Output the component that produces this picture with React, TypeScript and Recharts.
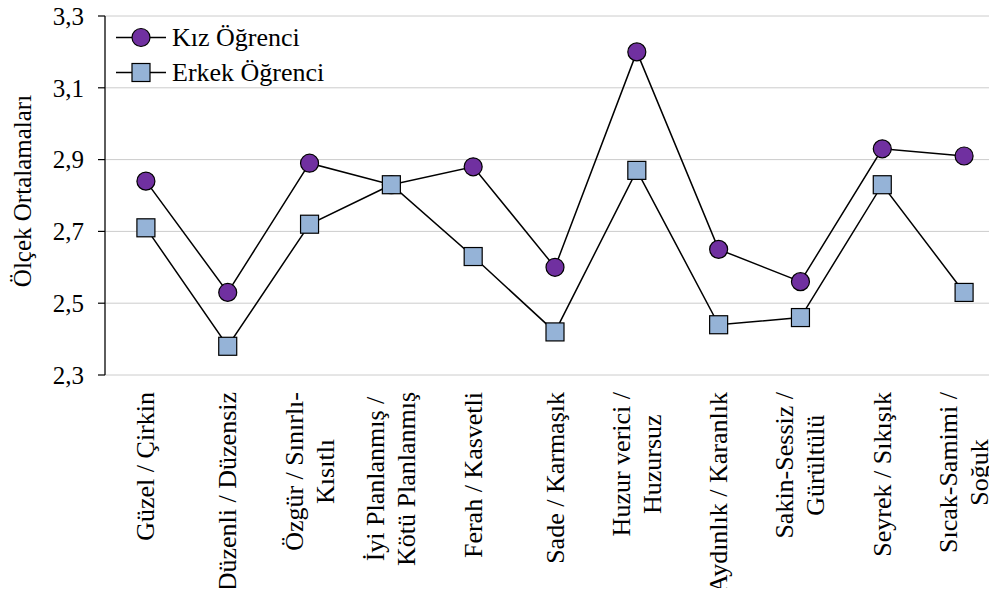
import { CartesianGrid, Legend, Line, LineChart, XAxis, YAxis } from 'recharts'

const categories = [
  'Güzel / Çirkin',
  'Düzenli / Düzensiz',
  'Özgür / Sınırlı-\nKısıtlı',
  'İyi Planlanmış /\nKötü Planlanmış',
  'Ferah / Kasvetli',
  'Sade / Karmaşık',
  'Huzur verici /\nHuzursuz',
  'Aydınlık / Karanlık',
  'Sakin-Sessiz /\nGürültülü',
  'Seyrek / Sıkışık',
  'Sıcak-Samimi /\nSoğuk',
]
const kizValues = [2.84, 2.53, 2.89, 2.83, 2.88, 2.6, 3.2, 2.65, 2.56, 2.93, 2.91]
const erkekValues = [2.71, 2.38, 2.72, 2.83, 2.63, 2.42, 2.87, 2.44, 2.46, 2.83, 2.53]
const yTicks = [2.3, 2.5, 2.7, 2.9, 3.1, 3.3]

const FONT = '"Liberation Serif", "Times New Roman", serif'
const KIZ_FILL = '#7030A0'
const ERKEK_FILL = '#95B3D7'
const LABEL_SIZE = 26

const data = categories.map((name, i) => ({
  name,
  x: i + 0.5,
  kiz: kizValues[i],
  erkek: erkekValues[i],
}))
const boundaryTicks = categories.map((_, i) => i).concat(categories.length)
const centerTicks = data.map((d) => d.x)

let ctx: CanvasRenderingContext2D | null = null
const measure = (s: string) => {
  if (!ctx) {
    ctx = document.createElement('canvas').getContext('2d')
    if (ctx) ctx.font = `${LABEL_SIZE}px "Liberation Serif"`
  }
  return ctx ? ctx.measureText(s).width : s.length * 11
}

// rotated, centred multi-line category labels
const XLabel = (props: any) => {
  const { x, y, payload } = props
  const idx = Math.round(payload.value - 0.5)
  const lines = (categories[idx] || '').split('\n')
  const maxW = Math.max(...lines.map(measure))
  const top = y + 17
  const cy = top + maxW / 2
  const lh = 31
  return (
    <g transform={`translate(${x},${cy}) rotate(-90)`}>
      {lines.map((l, i) => (
        <text
          key={i}
          x={0}
          y={(i - (lines.length - 1) / 2) * lh}
          textAnchor="middle"
          dominantBaseline="central"
          fontFamily={FONT}
          fontSize={LABEL_SIZE}
          fill="#000"
        >
          {l}
        </text>
      ))}
    </g>
  )
}

const SquareDot = (props: any) => {
  const { cx, cy, index } = props
  return (
    <rect
      key={`sq-${index}`}
      x={cx - 9}
      y={cy - 9}
      width={18}
      height={18}
      fill={ERKEK_FILL}
      stroke="#000"
      strokeWidth={1.2}
    />
  )
}

const LegendContent = () => {
  const rows = [
    { name: 'Kız Öğrenci', kind: 'circle' },
    { name: 'Erkek Öğrenci', kind: 'square' },
  ]
  return (
    <div>
      {rows.map((r) => (
        <div key={r.name} style={{ display: 'flex', alignItems: 'center', height: 35 }}>
          <svg width={50} height={35}>
            <line x1={0} y1={17.5} x2={50} y2={17.5} stroke="#000" strokeWidth={1.5} />
            {r.kind === 'circle' ? (
              <circle cx={25} cy={17.5} r={9} fill={KIZ_FILL} stroke="#000" strokeWidth={1.2} />
            ) : (
              <rect x={16} y={8.5} width={18} height={18} fill={ERKEK_FILL} stroke="#000" strokeWidth={1.2} />
            )}
          </svg>
          <span style={{ marginLeft: 6, fontFamily: FONT, fontSize: 26, color: '#000', whiteSpace: 'nowrap' }}>
            {r.name}
          </span>
        </div>
      ))}
    </div>
  )
}

function App() {
  return (
    <div style={{ margin: -8, width: 997, height: 596, overflow: 'hidden', position: 'relative', background: '#fff' }}>
      <LineChart width={1010} height={596} data={data} margin={{ top: 16, right: 5, bottom: 0, left: 0 }}>
        <CartesianGrid stroke="#cccccc" strokeWidth={1} />
        <XAxis
          dataKey="x"
          type="number"
          domain={[0, categories.length]}
          ticks={boundaryTicks}
          interval={0}
          tick={false}
          tickSize={7}
          height={0}
          stroke="#000"
          strokeWidth={1.2}
        />
        <XAxis
          xAxisId="lab"
          dataKey="x"
          type="number"
          domain={[0, categories.length]}
          ticks={centerTicks}
          interval={0}
          tickLine={false}
          axisLine={false}
          tickSize={0}
          tickMargin={0}
          height={221}
          tick={<XLabel />}
        />
        <YAxis
          domain={[2.3, 3.3]}
          ticks={yTicks}
          interval={0}
          width={105}
          tickSize={7}
          tickMargin={14}
          stroke="#000"
          strokeWidth={1.2}
          tick={{ fill: '#000', fontFamily: FONT, fontSize: 25 }}
          tickFormatter={(v: number) => v.toFixed(1).replace('.', ',')}
          label={() => (
            <text
              x={22}
              y={191}
              transform="rotate(-90 22 191)"
              textAnchor="middle"
              dominantBaseline="central"
              fontFamily={FONT}
              fontSize={25}
              fill="#000"
            >
              Ölçek Ortalamaları
            </text>
          )}
        />
        <Legend
          layout="vertical"
          align="center"
          verticalAlign="middle"
          wrapperStyle={{ left: 116, top: 20, width: 'auto', height: 'auto' }}
          content={<LegendContent />}
        />
        <Line
          dataKey="kiz"
          name="Kız Öğrenci"
          type="linear"
          stroke="#000"
          strokeWidth={1.5}
          dot={{ r: 9, fill: KIZ_FILL, stroke: '#000', strokeWidth: 1.2 }}
          activeDot={false}
          isAnimationActive={false}
        />
        <Line
          dataKey="erkek"
          name="Erkek Öğrenci"
          type="linear"
          stroke="#000"
          strokeWidth={1.5}
          dot={<SquareDot />}
          activeDot={false}
          isAnimationActive={false}
        />
      </LineChart>
    </div>
  )
}

export default App
